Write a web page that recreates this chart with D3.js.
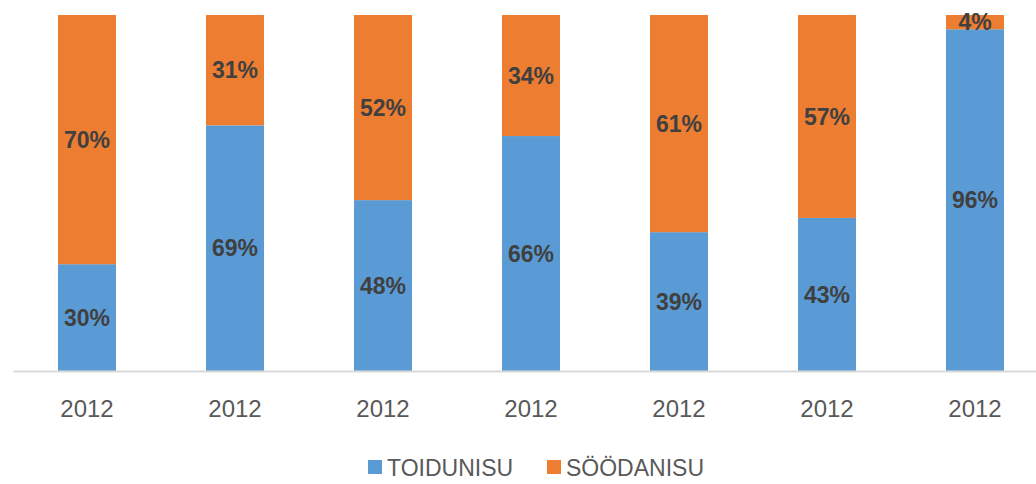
<!DOCTYPE html>
<html>
<head>
<meta charset="utf-8">
<script src="https://cdn.jsdelivr.net/npm/d3@7"></script>
<style>
  body { margin: 0; background: #fff; }
  svg { display: block; }
</style>
</head>
<body>
<div id="container"></div>
<script>
// data
const years = ["2012", "2012", "2012", "2012", "2012", "2012", "2012"];
const toidunisu = [30, 69, 48, 66, 39, 43, 96];
const soodanisu = [70, 31, 52, 34, 61, 57, 4];
const seriesNames = ["TOIDUNISU", "SÖÖDANISU"];
const colors = ["#5b9bd5", "#ed7d31"];

const W = 1036, H = 484;

let svg = d3.select("#container")
  .append("svg")
  .attr("width", W)
  .attr("height", H);

let rows = years.map((y, i) => ({ i: i, year: y, a: toidunisu[i], b: soodanisu[i] }));

let x = d3.scaleBand()
  .domain(rows.map(d => d.i))
  .range([13, 1049])
  .paddingInner(0.608)
  .paddingOuter(0.304);

let y = d3.scaleLinear()
  .domain([0, 100])
  .range([371, 15]);

let stack = d3.stack().keys(["a", "b"]);
let layers = stack(rows);

let g = svg.selectAll(".layer").data(layers).enter()
  .append("g")
  .attr("class", "layer")
  .attr("fill", (d, i) => colors[i]);

g.selectAll("rect").data(d => d).enter()
  .append("rect")
  .attr("x", d => x(d.data.i))
  .attr("y", d => y(d[1]))
  .attr("width", x.bandwidth())
  .attr("height", d => y(d[0]) - y(d[1]));

g.selectAll("text").data(d => d).enter()
  .append("text")
  .text(d => (d[1] - d[0]) + "%")
  .attr("x", d => x(d.data.i) + x.bandwidth() / 2)
  .attr("y", d => (y(d[0]) + y(d[1])) / 2)
  .attr("dy", "0.36em")
  .attr("text-anchor", "middle")
  .attr("font-family", "Liberation Sans, Arial, sans-serif")
  .attr("font-weight", "bold")
  .attr("font-size", 23)
  .attr("fill", "#404040");

// x axis
let axis = svg.append("g")
  .attr("transform", "translate(0,371)")
  .call(d3.axisBottom(x).tickSize(0).tickPadding(29).tickFormat(i => years[i]));

axis.select(".domain").attr("stroke", "#d9d9d9").attr("stroke-width", 2);
axis.selectAll("text")
  .attr("font-family", "Liberation Sans, Arial, sans-serif")
  .attr("font-size", 24)
  .attr("fill", "#595959");

// legend
let legend = svg.append("g").attr("class", "legend");
let legX = [368, 547];
seriesNames.forEach((name, i) => {
  legend.append("rect")
    .attr("x", legX[i])
    .attr("y", 460)
    .attr("width", 14)
    .attr("height", 14)
    .attr("fill", colors[i]);
  legend.append("text")
    .text(name)
    .attr("x", legX[i] + 19)
    .attr("y", 476)
    .attr("font-family", "Liberation Sans, Arial, sans-serif")
    .attr("font-size", 23)
    .attr("fill", "#595959");
});
</script>
</body>
</html>
